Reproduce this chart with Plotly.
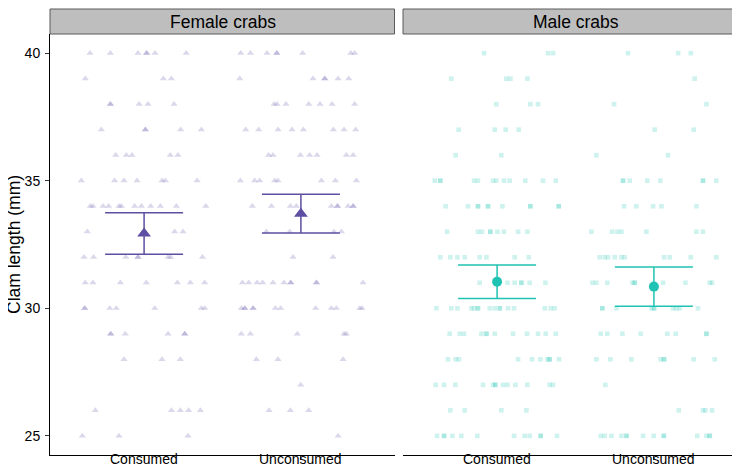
import plotly.graph_objects as go

# ---------------- data ----------------
categories = ["Consumed", "Unconsumed"]
panels = ["Female crabs", "Male crabs"]

# jitter offsets (category units, relative to category centre) for each clam length
female_consumed = {
    40: [-0.345, -0.215, -0.039, 0.016, 0.016, 0.07, 0.269],
    39: [-0.375, 0.123, 0.174],
    38: [-0.215, -0.215, -0.032, 0.025, 0.191],
    37: [-0.273, 0.008, 0.008, 0.233, 0.365],
    36: [-0.181, -0.113, -0.077, 0.167, 0.216],
    35: [-0.40, -0.188, -0.128, -0.045, 0.114, 0.136, 0.338],
    34: [-0.343, -0.326, -0.262, -0.226, -0.16, -0.145, -0.06, -0.017, 0.042, 0.104, 0.206, 0.393],
    33: [-0.362, 0.195, 0.248],
    32: [-0.383, -0.322, -0.117, -0.039, -0.039, 0.153, 0.17, 0.372],
    31: [-0.375, -0.326, -0.151, 0.014, 0.212, 0.295, 0.386],
    30: [-0.379, -0.379, -0.219, -0.177, 0.068, 0.365, 0.387],
    29: [-0.213, -0.213, -0.12, 0.153, 0.259, 0.259],
    28: [-0.128, 0.114, 0.231],
    26: [-0.311, 0.174, 0.231, 0.284, 0.359],
    25: [-0.394, -0.16, 0.28],
}
female_unconsumed = {
    40: [-0.384, -0.322, -0.216, -0.154, -0.154, 0.011, 0.318, 0.343],
    39: [-0.39, 0.077, 0.152, 0.152, 0.237, 0.305],
    38: [-0.171, -0.152, -0.095, 0.05, 0.122, 0.199, 0.343],
    37: [-0.352, -0.269, -0.146, -0.057, 0.016, 0.207, 0.275, 0.349],
    36: [-0.206, -0.178, -0.003, 0.056, 0.103, 0.29, 0.333],
    35: [-0.386, -0.295, -0.263, -0.167, -0.146, 0.131, 0.22, 0.354],
    34: [-0.31, -0.188, -0.067, -0.029, 0.194, 0.233, 0.233, 0.301, 0.333, 0.333],
    33: [-0.22, -0.071, 0.211, 0.258],
    32: [-0.05, 0.205],
    31: [-0.373, -0.333, -0.28, -0.244, -0.178, -0.108, -0.065, -0.065, 0.099, 0.099, 0.396],
    30: [-0.38, -0.358, -0.358, -0.305, -0.305, -0.163, -0.129, 0.094, 0.194, 0.226, 0.375, 0.39],
    29: [-0.38, -0.322, -0.023, 0.275, 0.29],
    28: [-0.284, -0.146, 0.269],
    27: [-0.001],
    26: [-0.203, -0.067, 0.05],
    25: [0.237],
}
male_consumed = {
    40: [-0.083, 0.325, 0.357],
    39: [-0.292, 0.059, 0.085, 0.193],
    38: [-0.005, 0.212, 0.261],
    37: [-0.245, -0.015, 0.055, 0.138],
    36: [-0.264, 0.027],
    35: [-0.398, -0.362, -0.362, -0.147, -0.122, -0.026, -0.005, 0.044, 0.08, 0.18, 0.293, 0.374],
    34: [-0.328, -0.185, -0.122, -0.122, -0.058, -0.058, 0.034, 0.212, 0.212, 0.393, 0.393],
    33: [-0.319, -0.122, -0.096, -0.043, -0.043, 0.002, 0.044, 0.134, 0.193],
    32: [-0.362, -0.298, -0.253, -0.207, -0.111, -0.068, 0.112, 0.202],
    31: [-0.111, 0.066, 0.112, 0.155, 0.155, 0.208, 0.308],
    30: [-0.387, -0.292, -0.253, -0.164, -0.147, -0.122, -0.122, -0.047, -0.015, 0.017, 0.017,
         0.07, 0.108, 0.304, 0.342, 0.367],
    29: [-0.302, -0.238, -0.211, -0.1, -0.068, -0.068, -0.015, 0.102, 0.191, 0.261, 0.31, 0.374],
    28: [-0.313, -0.264, -0.243, 0.134, 0.223, 0.276, 0.321, 0.335, 0.335, 0.395],
    27: [-0.392, -0.338, -0.266, -0.09, -0.026, -0.011, -0.011, 0.038, 0.066, 0.117, 0.193, 0.335, 0.357],
    26: [-0.298, -0.207, 0.027, 0.187],
    25: [-0.383, -0.338, -0.338, -0.285, -0.228, -0.126, 0.108, 0.176, 0.208, 0.278, 0.278, 0.382],
}
male_unconsumed = {
    40: [-0.165, 0.154, 0.235],
    39: [0.26],
    38: [-0.254, 0.335],
    37: [0.005, 0.254],
    36: [-0.367, 0.09],
    35: [-0.197, -0.197, -0.154, -0.042, 0.041, 0.313, 0.313, 0.398],
    34: [-0.19, -0.112, -0.005, 0.048, 0.271],
    33: [-0.399, -0.267, -0.233, -0.207, -0.048, 0.271, 0.313],
    32: [-0.346, -0.314, -0.292, -0.25, -0.207, -0.186, 0.065, 0.101, 0.235, 0.398],
    31: [-0.392, -0.367, -0.297, -0.137, -0.122, -0.122, 0.058, 0.201, 0.356, 0.371],
    30: [-0.329, -0.329, -0.239, -0.016, 0.001, 0.001, 0.122, 0.143, 0.165, 0.281],
    29: [-0.339, -0.297, -0.201, -0.084, 0.086, 0.139, 0.335, 0.335],
    28: [-0.367, -0.278, -0.144, 0.043, 0.065, 0.065, 0.254, 0.388],
    27: [-0.31],
    26: [0.158, 0.313, 0.328, 0.371],
    25: [-0.339, -0.314, -0.271, -0.207, -0.175, -0.175, -0.069, -0.001, 0.063, 0.063,
         0.277, 0.335, 0.356, 0.356],
}

# means and confidence limits
female_mean = [32.93, 33.71]
female_lower = [32.12, 32.95]
female_upper = [33.74, 34.47]
male_mean = [31.04, 30.85]
male_lower = [30.38, 30.08]
male_upper = [31.70, 31.62]

y_ticks = [25, 30, 35, 40]

# ---------------- style ----------------
PURPLE = "#5E4FA2"
TEAL = "#1FC3B3"
FONT = "Liberation Sans, Arial, Helvetica, sans-serif"
W, H = 740, 465


def flatten(rows, centre):
    xs, ys = [], []
    for length, offs in rows.items():
        for o in offs:
            xs.append(centre + o)
            ys.append(length)
    return xs, ys


fig = go.Figure()

specs = [
    ("x", "y", female_consumed, female_unconsumed, female_mean, female_lower, female_upper,
     PURPLE, "triangle-up", "triangle-up", 6.3, 12, 0.22),
    ("x2", "y2", male_consumed, male_unconsumed, male_mean, male_lower, male_upper,
     TEAL, "square", "circle", 4.6, 10, 0.22),
]

for xa, ya, cons, uncons, mean, lo, hi, col, sym, msym, psize, msize, alpha in specs:
    for idx, rows in enumerate([cons, uncons]):
        xs, ys = flatten(rows, idx + 1)
        fig.add_trace(go.Scatter(
            x=xs, y=ys, mode="markers", xaxis=xa, yaxis=ya, showlegend=False,
            marker=dict(symbol=sym, size=psize, color=col, opacity=alpha,
                        line=dict(width=0)),
            hoverinfo="skip"))
    centres = [i + 1 for i in range(len(categories))]
    fig.add_trace(go.Scatter(
        x=centres, y=mean, mode="markers", xaxis=xa, yaxis=ya, showlegend=False,
        marker=dict(symbol=msym, size=msize, color=col, line=dict(width=0)),
        error_y=dict(type="data", symmetric=False,
                     array=[h - m for h, m in zip(hi, mean)],
                     arrayminus=[m - l for m, l in zip(mean, lo)],
                     color=col, thickness=1.5, width=39)))

# panel geometry in pixels
left_px = (42, 387)
right_px = (395, 740)
top_px, bottom_px = 26, 447
ydom = [(H - bottom_px) / H, (H - top_px) / H]

axis_common = dict(range=[0.4, 2.6], tickvals=[1, 2], ticktext=categories,
                   showticklabels=False,
                   showgrid=False, zeroline=False, ticks="outside", ticklen=4,
                   tickcolor="#333333", tickwidth=1,
                   showline=True, linecolor="black", linewidth=1,
                   automargin=False, fixedrange=True)

fig.update_layout(
    width=W, height=H,
    margin=dict(l=0, r=0, t=0, b=0),
    paper_bgcolor="white", plot_bgcolor="white",
    xaxis=dict(domain=[left_px[0] / W, left_px[1] / W], anchor="y", **axis_common),
    xaxis2=dict(domain=[right_px[0] / W, right_px[1] / W], anchor="y2", **axis_common),
    yaxis=dict(domain=ydom, range=[24.25, 40.75], tickvals=y_ticks,
               showgrid=False, zeroline=False, ticks="outside", ticklen=4,
               tickcolor="#333333", showline=True, linecolor="black", linewidth=1,
               tickfont=dict(family=FONT, size=14, color="black"),
               ticklabelstandoff=2,
               anchor="x", automargin=False, fixedrange=True),
    yaxis2=dict(domain=ydom, range=[24.25, 40.75], matches="y", showticklabels=False,
                showgrid=False, zeroline=False, ticks="", showline=False,
                anchor="x2", automargin=False, fixedrange=True),
)

# facet strips
shapes = []
annotations = []
for (x0, x1), label in zip([left_px, right_px], panels):
    shapes.append(dict(type="rect", xref="paper", yref="paper",
                       x0=x0 / W, x1=(x1 - 0.5) / W,
                       y0=(H - top_px) / H, y1=(H - 1) / H,
                       fillcolor="#BEBEBE", line=dict(color="#5A5A5A", width=1)))
    annotations.append(dict(text=label, xref="paper", yref="paper",
                            x=(x0 + x1) / 2 / W, y=(H - 13.5) / H,
                            xanchor="center", yanchor="middle", showarrow=False,
                            font=dict(family=FONT, size=17.5, color="black")))

# category labels under each panel, positioned through the panel's x scale
for xref in ["x", "x2"]:
    for i, cat in enumerate(categories):
        annotations.append(dict(text=cat, xref=xref, yref="paper",
                                x=i + 1, y=0, xanchor="center", yanchor="bottom",
                                yshift=4, showarrow=False,
                                font=dict(family=FONT, size=14, color="black")))

annotations.append(dict(text="Clam length (mm)", xref="paper", yref="paper",
                        x=0, y=(H - 237) / H, textangle=-90,
                        xanchor="left", yanchor="middle", xshift=-6, showarrow=False,
                        font=dict(family=FONT, size=17.5, color="black")))

fig.update_layout(shapes=shapes, annotations=annotations)

fig.write_html("out.html")
